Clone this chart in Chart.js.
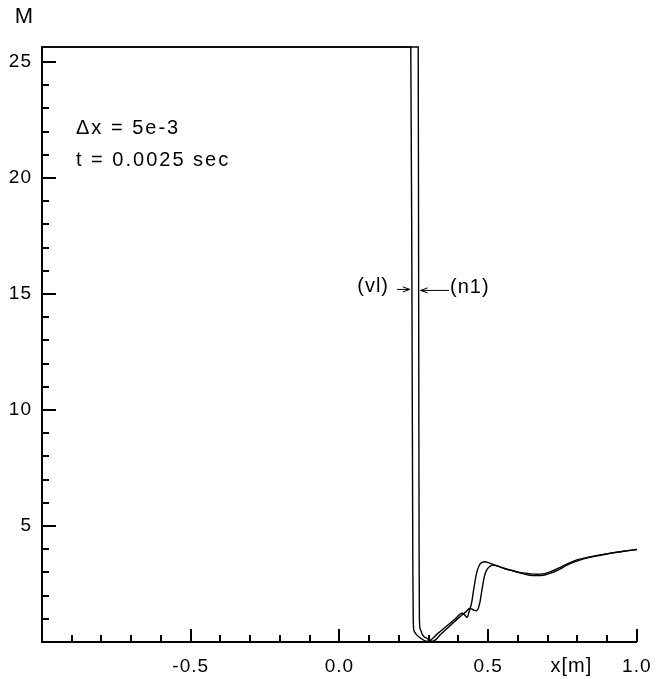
<!DOCTYPE html>
<html>
<head>
<meta charset="utf-8">
<script src="https://cdn.jsdelivr.net/npm/chart.js@4.4.1/dist/chart.umd.min.js"></script>
<style>
  html, body { margin: 0; padding: 0; background: #fff; }
</style>
</head>
<body>
<canvas id="myChart" width="663" height="679"></canvas>
<script>
// Đường (vl)
const vlX = [-1.0, 0.240, 0.244, 0.247, 0.2485, 0.252, 0.265, 0.2975, 0.33, 0.36, 0.39, 0.412, 0.421, 0.4296, 0.437, 0.444, 0.452, 0.461, 0.470, 0.480, 0.489, 0.505, 0.528, 0.555, 0.584, 0.610, 0.640, 0.663, 0.690, 0.708, 0.735, 0.764, 0.790, 0.808, 0.850, 0.898, 0.950, 1.0];
const vlM = [25.65, 25.65, 14.7, 3.0, 0.8, 0.45, 0.25, 0.03, 0.36, 0.68, 1.0, 1.24, 1.17, 1.06, 1.35, 1.65, 2.3, 2.95, 3.3, 3.43, 3.46, 3.40, 3.29, 3.17, 3.07, 2.99, 2.94, 2.92, 2.95, 3.02, 3.17, 3.36, 3.50, 3.57, 3.69, 3.80, 3.90, 3.99];

// Đường (n1)
const n1X = [-1.0, 0.265, 0.2665, 0.268, 0.269, 0.272, 0.280, 0.295, 0.314, 0.34, 0.37, 0.40, 0.425, 0.4387, 0.450, 0.461, 0.472, 0.480, 0.488, 0.495, 0.505, 0.517, 0.528, 0.555, 0.584, 0.610, 0.640, 0.663, 0.690, 0.708, 0.735, 0.764, 0.790, 0.808, 0.850, 0.898, 0.950, 1.0];
const n1M = [25.65, 25.65, 14.7, 4.0, 1.0, 0.55, 0.30, 0.15, 0.03, 0.32, 0.68, 1.03, 1.30, 1.45, 1.39, 1.35, 1.68, 2.30, 2.85, 3.10, 3.25, 3.32, 3.29, 3.17, 3.07, 2.97, 2.88, 2.86, 2.89, 2.96, 3.10, 3.30, 3.45, 3.53, 3.67, 3.79, 3.90, 3.99];

// Nhãn trục
const xTickLabels = [-0.5, 0.0, 0.5, 1.0];
const yTickLabels = [5, 10, 15, 20, 25];
const xMin = -1, xMax = 1, mMax = 25.65;

const FONT = '"Liberation Sans", Arial, sans-serif';

function toPoints(xs, ys) {
    return xs.map((x, i) => ({ x: x, y: ys[i] }));
}

function isMajorX(v) { return Math.round(v * 10) % 5 === 0; }
function isMajorY(v) { return Math.round(v) % 5 === 0; }

function arrow(ctx, x1, y, x2) {
    const dir = x2 > x1 ? 1 : -1;
    ctx.beginPath();
    ctx.moveTo(x1, y);
    ctx.lineTo(x2, y);
    ctx.moveTo(x2 - dir * 7, y - 2.5);
    ctx.lineTo(x2, y);
    ctx.lineTo(x2 - dir * 7, y + 2.5);
    ctx.stroke();
}

// Plugin vẽ vạch chia hướng vào trong và chú thích
const decorPlugin = {
    id: 'decor',
    beforeDraw(chart) {
        chart.ctx.letterSpacing = '1px';
    },
    afterDraw(chart) {
        const ctx = chart.ctx;
        const xs = chart.scales.x, ys = chart.scales.y;
        const area = chart.chartArea;
        ctx.save();
        ctx.strokeStyle = '#000';
        ctx.lineWidth = 2;
        ctx.beginPath();
        xs.ticks.forEach(t => {
            const px = Math.round(xs.getPixelForValue(t.value));
            const len = isMajorX(t.value) ? 13 : 7;
            ctx.moveTo(px, area.bottom);
            ctx.lineTo(px, area.bottom - len);
        });
        ys.ticks.forEach(t => {
            if (t.value <= 0) return;
            const py = Math.round(ys.getPixelForValue(t.value));
            const len = isMajorY(t.value) ? 14 : 7;
            ctx.moveTo(area.left, py);
            ctx.lineTo(area.left + len, py);
        });
        ctx.stroke();

        ctx.fillStyle = '#000';
        ctx.textBaseline = 'middle';

        // Tên trục
        ctx.letterSpacing = '0px';
        ctx.font = '22px ' + FONT;
        ctx.textAlign = 'center';
        ctx.fillText('M', 24, 17);
        ctx.letterSpacing = '1px';
        ctx.font = '20px ' + FONT;
        ctx.fillText('x[m]', xs.getPixelForValue(0.78), 666);

        // Thông số
        ctx.letterSpacing = '2px';
        ctx.font = '20px ' + FONT;
        ctx.textAlign = 'left';
        ctx.fillText('\u0394x = 5e-3', 76, 128);
        ctx.fillText('t = 0.0025 sec', 76, 160);

        // Chú thích đường
        ctx.letterSpacing = '1px';
        ctx.font = '20px ' + FONT;
        const yA = ys.getPixelForValue(15.2);
        ctx.textAlign = 'right';
        ctx.fillText('(vl)', 389, yA - 3);
        ctx.textAlign = 'left';
        ctx.fillText('(n1)', 450, yA - 2);
        ctx.lineWidth = 1;
        arrow(ctx, 397, yA, xs.getPixelForValue(0.237));
        arrow(ctx, 449, yA + 1, xs.getPixelForValue(0.273));
        ctx.restore();
    }
};

const ctx = document.getElementById('myChart').getContext('2d');
const lineStyle = {
    borderColor: '#000',
    borderWidth: 1.4,
    pointRadius: 0,
    fill: false,
    cubicInterpolationMode: 'monotone',
    clip: 3
};

new Chart(ctx, {
    type: 'line',
    data: {
        datasets: [
            Object.assign({ label: 'vl', data: toPoints(vlX, vlM) }, lineStyle),
            Object.assign({ label: 'n1', data: toPoints(n1X, n1M) }, lineStyle)
        ]
    },
    options: {
        responsive: false,
        animation: false,
        layout: { padding: { top: 47, right: 26, left: 0, bottom: 0 } },
        plugins: {
            legend: { display: false },
            tooltip: { enabled: false }
        },
        scales: {
            x: {
                type: 'linear',
                min: xMin,
                max: xMax,
                afterFit: s => { s.height = 37; },
                grid: { display: false, drawTicks: false },
                border: { display: true, color: '#000', width: 2 },
                ticks: {
                    stepSize: 0.1,
                    autoSkip: false,
                    maxRotation: 0,
                    includeBounds: false,
                    padding: 13,
                    color: '#000',
                    font: { family: FONT, size: 19 },
                    callback: function(v) {
                        const r = Math.round(v * 10) / 10;
                        return xTickLabels.some(l => Math.abs(l - r) < 1e-9) ? r.toFixed(1) : '';
                    }
                }
            },
            y: {
                type: 'linear',
                min: 0,
                max: mMax,
                afterFit: s => { s.width = 42; },
                grid: { display: false, drawTicks: false },
                border: { display: true, color: '#000', width: 2 },
                ticks: {
                    stepSize: 1,
                    autoSkip: false,
                    includeBounds: false,
                    padding: 10,
                    color: '#000',
                    font: { family: FONT, size: 19 },
                    callback: function(v) {
                        return yTickLabels.includes(Math.round(v)) && Math.abs(v - Math.round(v)) < 1e-9 ? String(Math.round(v)) : '';
                    }
                }
            }
        }
    },
    plugins: [decorPlugin]
});
</script>
</body>
</html>
